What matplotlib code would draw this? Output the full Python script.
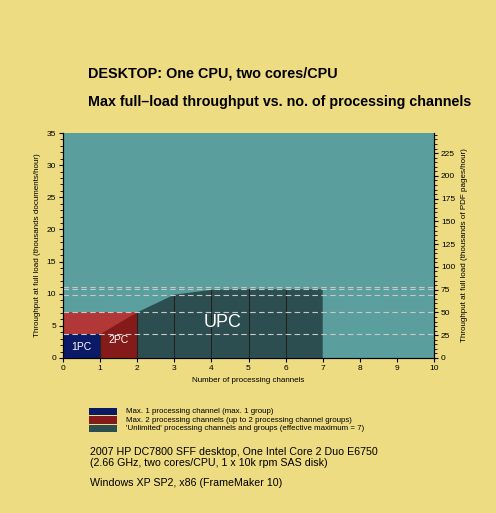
import numpy as np
import matplotlib.pyplot as plt
from matplotlib.patches import Polygon, Rectangle
from matplotlib.ticker import MultipleLocator

plt.rcParams['font.family'] = ['Liberation Sans', 'DejaVu Sans']

# throughput (thousands of documents/hour) per number of processing channels
one_pc_max = 3.7
two_pc_max = 7.1
upc_x = [2, 3, 4, 5, 6, 7]
upc_y = [7.1, 9.85, 10.6, 10.7, 10.7, 10.7]
ref_lines = [3.7, 7.1, 9.85, 10.7, 11.05]
pages_per_doc = 7.06

legend_labels = [
    "Max. 1 processing channel (max. 1 group)",
    "Max. 2 processing channels (up to 2 processing channel groups)",
    "'Unlimited' processing channels and groups (effective maximum = 7)",
]

bg = '#EEDC82'
teal = '#5A9E9E'
navy = '#0B1A66'
dred = '#851A1A'
lred = '#B23838'
slate = '#2D4E50'

fig = plt.figure(figsize=(4.96, 5.13), dpi=100)
fig.patch.set_facecolor(bg)
ax = fig.add_axes([63/496, 1 - 358/513, (434-63)/496, (358-133)/513])
ax.set_facecolor(teal)
ax.set_xlim(0, 10)
ax.set_ylim(0, 35)

# 2PC light band, then 1PC and dark 2PC wedge
ax.add_patch(Rectangle((0, 0), 2, two_pc_max, facecolor=lred, edgecolor='none', zorder=2))
ax.add_patch(Rectangle((0, 0), 1, one_pc_max, facecolor=navy, edgecolor='none', zorder=3))
ax.add_patch(Polygon([(1, 0), (2, 0), (2, two_pc_max), (1, one_pc_max)],
                     closed=True, facecolor=dred, edgecolor='none', zorder=3))
# UPC region
pts = [(upc_x[0], 0)] + list(zip(upc_x, upc_y)) + [(upc_x[-1], 0)]
ax.add_patch(Polygon(pts, closed=True, facecolor=slate, edgecolor='none', zorder=3))

# channel dividers
for xv in range(1, 7):
    top = one_pc_max if xv == 1 else (two_pc_max if xv == 2 else upc_y[upc_x.index(xv)])
    ax.plot([xv, xv], [0, top], color='#222222', lw=0.8, zorder=4)

for yv in ref_lines:
    ax.axhline(yv, color='#C8C8C8', lw=0.8, ls=(0, (5, 3)), zorder=5)

ax.text(0.5, 1.7, '1PC', color='white', fontsize=7.5, ha='center', va='center', zorder=6)
ax.text(1.5, 2.8, '2PC', color='white', fontsize=7.5, ha='center', va='center', zorder=6)
ax.text(4.3, 5.5, 'UPC', color='white', fontsize=13, ha='center', va='center', zorder=6)

ax.xaxis.set_major_locator(MultipleLocator(1))
ax.yaxis.set_major_locator(MultipleLocator(5))
ax.yaxis.set_minor_locator(MultipleLocator(1))
ax.tick_params(labelsize=6, length=3, width=0.8, pad=2)
ax.tick_params(which='minor', length=2, width=0.6)
for s in ['top']:
    ax.spines[s].set_visible(False)
for s in ['left', 'bottom', 'right']:
    ax.spines[s].set_color('#222222')
ax.set_xlabel('Number of processing channels', fontsize=5.8, labelpad=4)
ax.set_ylabel('Throughput at full load (thousands documents/hour)', fontsize=5.8, labelpad=4)

ax2 = ax.twinx()
ax2.set_ylim(0, 35 * pages_per_doc)
ax2.yaxis.set_major_locator(MultipleLocator(25))
ax2.yaxis.set_minor_locator(MultipleLocator(5))
ax2.tick_params(labelsize=6, length=3, width=0.8, pad=2)
ax2.tick_params(which='minor', length=2, width=0.6)
ax2.spines['top'].set_visible(False)
ax2.set_ylabel('Throughput at full load (thousands of PDF pages/hour)', fontsize=5.8, labelpad=4)

fig.text(88/496, 1 - 73/513, 'DESKTOP: One CPU, two cores/CPU', fontsize=10.4,
         fontweight='bold', va='center')
fig.text(88/496, 1 - 102/513, 'Max full\u2013load throughput vs. no. of processing channels',
         fontsize=10.3, fontweight='bold', va='center')

for i, (lab, col) in enumerate(zip(legend_labels, [navy, dred, slate])):
    y = 407.5 + i * 8.5
    fig.patches.append(Rectangle((89/496, 1 - (y + 7.8)/513), 28/496, 7.8/513,
                                 transform=fig.transFigure, facecolor=col,
                                 edgecolor='none'))
    fig.text(126/496, 1 - (y + 4)/513, lab, fontsize=5.7, va='center')

fig.text(90/496, 1 - 452/513, '2007 HP DC7800 SFF desktop, One Intel Core 2 Duo E6750',
         fontsize=7.7, va='center')
fig.text(90/496, 1 - 463/513, '(2.66 GHz, two cores/CPU, 1 x 10k rpm SAS disk)',
         fontsize=7.7, va='center')
fig.text(90/496, 1 - 483/513, 'Windows XP SP2, x86 (FrameMaker 10)', fontsize=7.7, va='center')

fig.savefig('out.png', dpi=100, facecolor=bg)
